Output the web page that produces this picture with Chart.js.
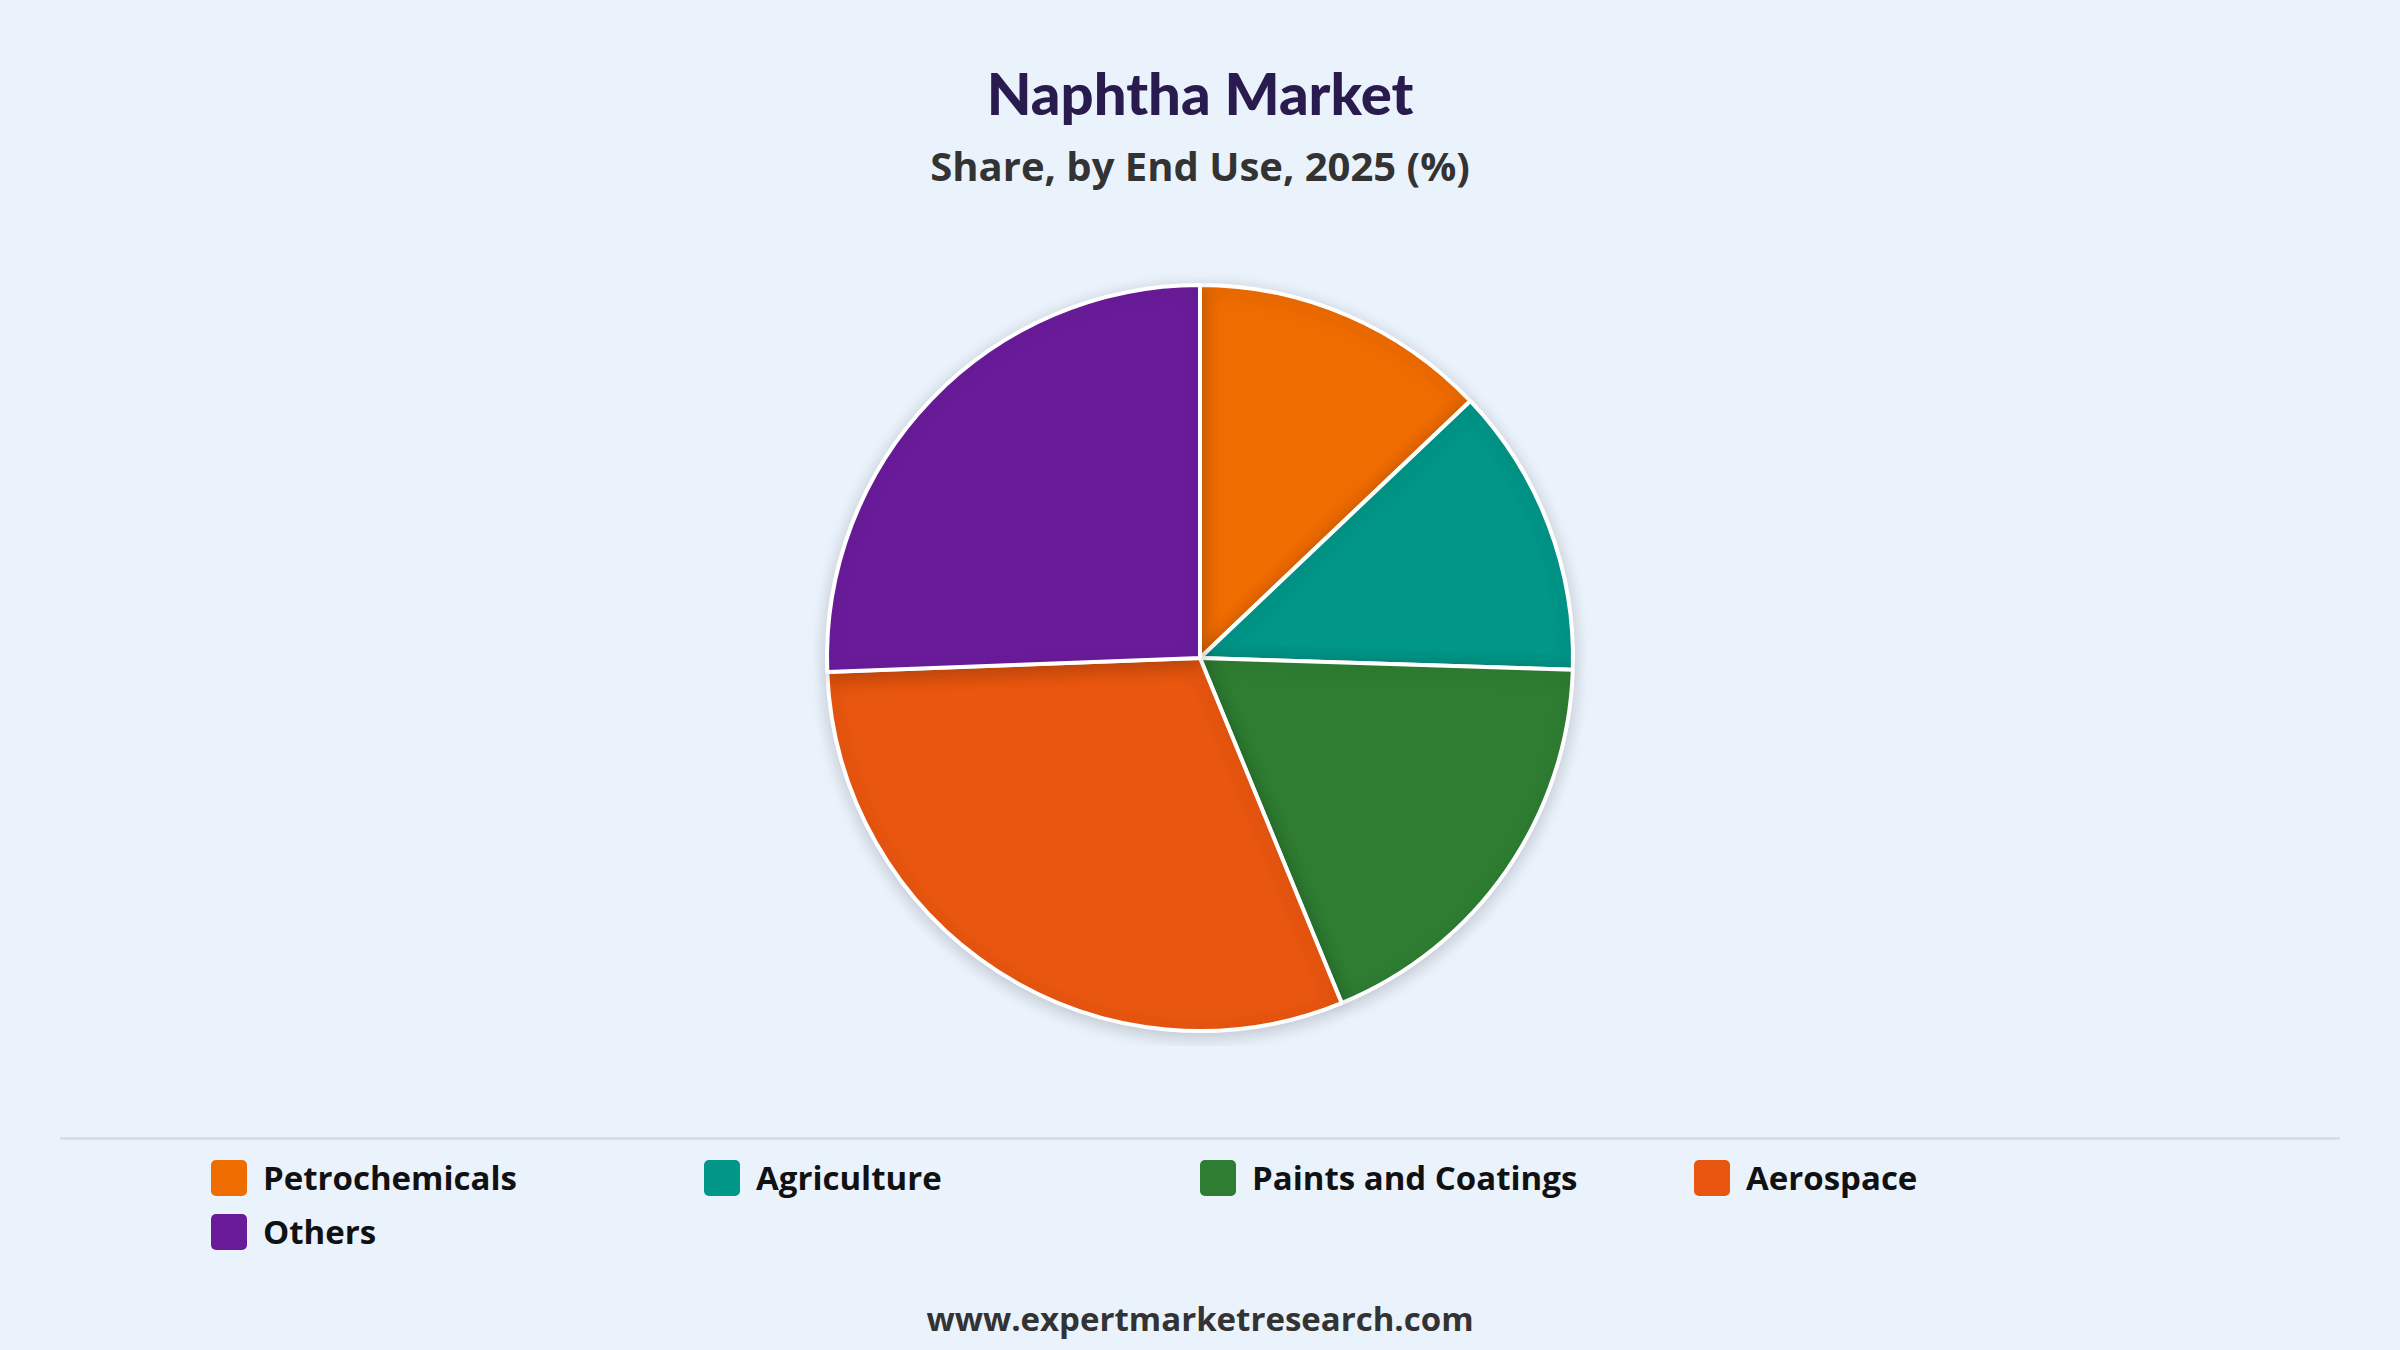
<!DOCTYPE html>
<html><head><meta charset="utf-8">
<script src="https://cdn.jsdelivr.net/npm/chart.js@4/dist/chart.umd.min.js"></script>
<style>
html,body{margin:0;padding:0;width:2400px;height:1350px;background:#EAF2FC;font-family:"Open Sans",Lato,sans-serif;overflow:hidden;position:relative}
#t{position:absolute;top:58px;width:100%;text-align:center;font-family:Lato,sans-serif;font-weight:900;font-size:58px;color:#2A1B4E}
#s{position:absolute;top:138px;width:100%;text-align:center;font-weight:700;font-size:40px;color:#333}
#cw{position:absolute;left:0;top:270px;width:2400px;height:776px}
#sep{position:absolute;left:60px;top:1137px;width:2280px;height:3px;background:#D8DEE6}
.li{position:absolute;font-weight:700;font-size:33px;color:#111;display:flex;align-items:center}
.li span{display:inline-block;width:36px;height:36px;border-radius:5px;margin-right:16px}
#f{position:absolute;top:1296px;width:100%;text-align:center;font-weight:700;font-size:33px;color:#333}
</style></head><body>
<div id="t">Naphtha Market</div>
<div id="s">Share, by End Use, 2025 (%)</div>
<div id="cw"><canvas id="c"></canvas></div>
<div id="sep"></div>
<div id="leg"></div>
<div id="f">www.expertmarketresearch.com</div>
<script>
const categories=["Petrochemicals","Agriculture","Paints and Coatings","Aerospace","Others"];
const shares=[12.9,12.6,18.3,30.6,25.6];
const colors=["#EF6C00","#009688","#2E7D32","#E8560F","#6A1B9A"];
const legPos=[[211,1155],[704,1155],[1200,1155],[1694,1155],[211,1209]];
const leg=document.getElementById('leg');
categories.forEach((c,i)=>{const d=document.createElement('div');d.className='li';d.style.left=legPos[i][0]+'px';d.style.top=legPos[i][1]+'px';d.innerHTML='<span style="background:'+colors[i]+'"></span>'+c;leg.appendChild(d);});
const shadow={id:'shadow',beforeDatasetsDraw(ch){const x=ch.ctx;x.save();x.shadowColor='rgba(0,0,0,0.18)';x.shadowBlur=18;x.shadowOffsetY=4;},afterDatasetsDraw(ch){ch.ctx.restore();}};
new Chart(document.getElementById('c'),{type:'pie',data:{labels:categories,datasets:[{data:shares,backgroundColor:colors,borderColor:'#fff',borderWidth:4}]},
options:{responsive:true,maintainAspectRatio:false,animation:false,layout:{padding:13},plugins:{legend:{display:false},tooltip:{enabled:false}}},plugins:[shadow]});
</script></body></html>
